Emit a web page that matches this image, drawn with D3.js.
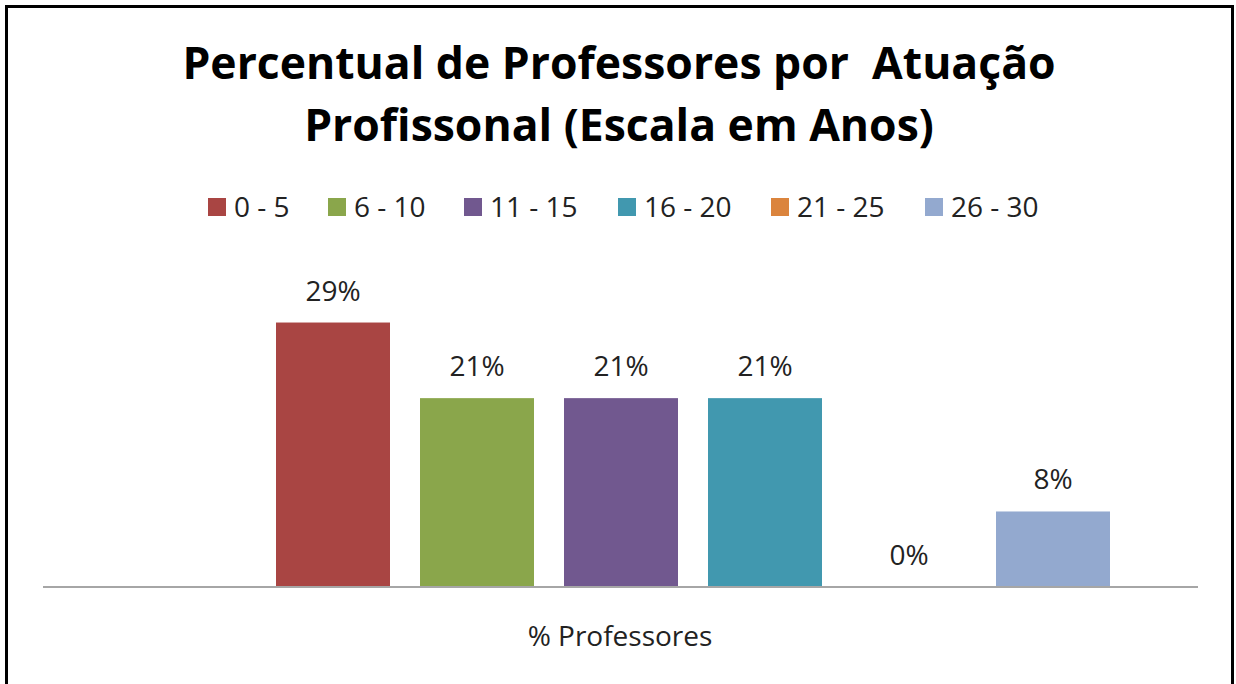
<!DOCTYPE html>
<html>
<head>
<meta charset="utf-8">
<script src="https://cdn.jsdelivr.net/npm/d3@7"></script>
<style>
  body { margin: 0; background: #fff; }
  text { font-family: "Open Sans", sans-serif; }
</style>
</head>
<body>
<div id="chart-area"></div>
<script>
var series = ["0 - 5", "6 - 10", "11 - 15", "16 - 20", "21 - 25", "26 - 30"];
var values = [29.17, 20.83, 20.83, 20.83, 0, 8.33];
var colorList = ["#A94543", "#8AA64B", "#71588F", "#4198AF", "#DB843D", "#93A9CF"];
var categoryLabel = "% Professores";
var titleLines = ["Percentual de Professores por  Atuação", "Profissonal (Escala em Anos)"];

var width = 1236;
var height = 684;

var svg = d3.select("#chart-area")
    .append("svg")
    .attr("width", width)
    .attr("height", height);

// frame
svg.append("rect")
    .attr("x", 6.5)
    .attr("y", 6.5)
    .attr("width", 1226)
    .attr("height", 700)
    .attr("fill", "none")
    .attr("stroke", "#000")
    .attr("stroke-width", 3);

// title
svg.selectAll(".title")
    .data(titleLines)
    .enter()
    .append("text")
    .attr("class", "title")
    .attr("x", 619)
    .attr("y", function(d, i) { return 79 + i * 62; })
    .attr("text-anchor", "middle")
    .style("white-space", "pre")
    .attr("font-size", 44.5)
    .attr("font-weight", "bold")
    .attr("fill", "#000")
    .text(function(d) { return d; });

var x = d3.scaleBand()
    .domain(series)
    .range([261, 1125])
    .paddingInner(30 / 144)
    .paddingOuter(15 / 144);

var y = d3.scaleLinear()
    .domain([0, 30])
    .range([587, 315]);

var color = d3.scaleOrdinal()
    .domain(series)
    .range(colorList);

// legend
var legendX = [208, 328, 464, 618, 771, 925];
var legend = svg.selectAll(".legend")
    .data(series)
    .enter()
    .append("g")
    .attr("class", "legend")
    .attr("transform", function(d, i) { return "translate(" + legendX[i] + ",198)"; });

legend.append("rect")
    .attr("width", 18)
    .attr("height", 18)
    .attr("fill", function(d) { return color(d); });

legend.append("text")
    .attr("x", 26)
    .attr("y", 19)
    .attr("font-size", 28)
    .attr("fill", "#222")
    .text(function(d) { return d; });

// bars
svg.selectAll(".bar")
    .data(values)
    .enter()
    .append("rect")
    .attr("class", "bar")
    .attr("x", function(d, i) { return x(series[i]); })
    .attr("y", function(d) { return y(d); })
    .attr("width", x.bandwidth())
    .attr("height", function(d) { return y(0) - y(d); })
    .attr("fill", function(d, i) { return color(series[i]); });

// labels
svg.selectAll(".label")
    .data(values)
    .enter()
    .append("text")
    .attr("class", "label")
    .attr("x", function(d, i) { return x(series[i]) + x.bandwidth() / 2; })
    .attr("y", function(d) { return y(d) - 22; })
    .attr("text-anchor", "middle")
    .attr("font-size", 28)
    .attr("fill", "#222")
    .text(function(d) { return Math.round(d) + "%"; });

// axis line
svg.append("line")
    .attr("x1", 43)
    .attr("x2", 1198)
    .attr("y1", 587)
    .attr("y2", 587)
    .attr("stroke", "#a6a6a6")
    .attr("stroke-width", 2);

svg.append("text")
    .attr("x", 620)
    .attr("y", 646)
    .attr("text-anchor", "middle")
    .attr("font-size", 28)
    .attr("fill", "#222")
    .text(categoryLabel);
</script>
</body>
</html>
